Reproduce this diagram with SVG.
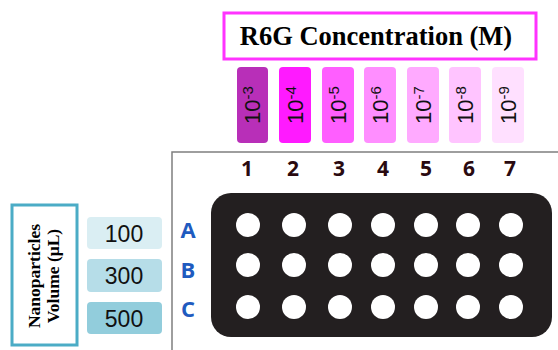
<svg xmlns="http://www.w3.org/2000/svg" width="558" height="350" viewBox="0 0 558 350">
<style>
.conc{font-family:"Liberation Sans",Arial,sans-serif;font-size:22px;fill:#111}
.exp{font-size:15px}
.col{font-family:"Open Sans","Liberation Sans",sans-serif;font-weight:bold;font-size:21px;fill:#2a0a10;text-anchor:middle}
.row{font-family:"Open Sans","Liberation Sans",sans-serif;font-weight:bold;font-size:22px;fill:#1f5bbf;text-anchor:middle}
.vol{font-family:"Liberation Sans",Arial,sans-serif;font-size:23px;fill:#111;text-anchor:middle}
.np{font-family:"Liberation Serif","Times New Roman",serif;font-weight:bold;font-size:17.5px;fill:#000;text-anchor:middle}
.well{fill:#ffffff}
</style>
<rect width="558" height="350" fill="#ffffff"/>
<g id="title">
<rect x="224" y="13" width="312" height="46" fill="#ffffff" stroke="#ff33ff" stroke-width="3"/>
<text x="376" y="45" text-anchor="middle" font-family="'Liberation Serif','Times New Roman',serif" font-weight="bold" font-size="26.5" fill="#000">R6G Concentration (M)</text>
</g>
<g id="concentrations">
<g id="c1"><rect x="237" y="67" width="31" height="76" rx="4" fill="#b82fb8"/><text class="conc" transform="translate(260,105) rotate(-90)" text-anchor="middle">10<tspan class="exp" dy="-7">-3</tspan></text></g>
<g id="c2"><rect x="279" y="67" width="32" height="76" rx="4" fill="#ff1aff"/><text class="conc" transform="translate(303,105) rotate(-90)" text-anchor="middle">10<tspan class="exp" dy="-7">-4</tspan></text></g>
<g id="c3"><rect x="322" y="67" width="32" height="76" rx="4" fill="#ff5eff"/><text class="conc" transform="translate(346,105) rotate(-90)" text-anchor="middle">10<tspan class="exp" dy="-7">-5</tspan></text></g>
<g id="c4"><rect x="364" y="67" width="32" height="76" rx="4" fill="#ff8eff"/><text class="conc" transform="translate(388,105) rotate(-90)" text-anchor="middle">10<tspan class="exp" dy="-7">-6</tspan></text></g>
<g id="c5"><rect x="407" y="67" width="32" height="76" rx="4" fill="#ffaaff"/><text class="conc" transform="translate(431,105) rotate(-90)" text-anchor="middle">10<tspan class="exp" dy="-7">-7</tspan></text></g>
<g id="c6"><rect x="449" y="67" width="32" height="76" rx="4" fill="#ffc4ff"/><text class="conc" transform="translate(473,105) rotate(-90)" text-anchor="middle">10<tspan class="exp" dy="-7">-8</tspan></text></g>
<g id="c7"><rect x="492" y="67" width="32" height="76" rx="4" fill="#ffe0ff"/><text class="conc" transform="translate(516,105) rotate(-90)" text-anchor="middle">10<tspan class="exp" dy="-7">-9</tspan></text></g>
</g>
<g id="frame">
<path d="M172 350 V152 H558" fill="none" stroke="#7f7f7f" stroke-width="1.5"/>
</g>
<g id="columns">
<text class="col" x="247" y="176">1</text>
<text class="col" x="293" y="176">2</text>
<text class="col" x="339" y="176">3</text>
<text class="col" x="383" y="176">4</text>
<text class="col" x="426" y="176">5</text>
<text class="col" x="469" y="176">6</text>
<text class="col" x="510" y="176">7</text>
</g>
<g id="rows">
<text class="row" x="188" y="238">A</text>
<text class="row" x="188" y="278">B</text>
<text class="row" x="188" y="317">C</text>
</g>
<g id="plate">
<rect x="211" y="193" width="341" height="144" rx="20" fill="#231f20"/>
<g class="well">
<circle cx="248" cy="225" r="12"/><circle cx="294" cy="225" r="12"/><circle cx="340" cy="225" r="12"/><circle cx="383" cy="225" r="12"/><circle cx="426" cy="225" r="12"/><circle cx="468" cy="225" r="12"/><circle cx="511" cy="225" r="12"/>
<circle cx="248" cy="265" r="12"/><circle cx="294" cy="265" r="12"/><circle cx="340" cy="265" r="12"/><circle cx="383" cy="265" r="12"/><circle cx="426" cy="265" r="12"/><circle cx="468" cy="265" r="12"/><circle cx="511" cy="265" r="12"/>
<circle cx="248" cy="307" r="12"/><circle cx="294" cy="307" r="12"/><circle cx="340" cy="307" r="12"/><circle cx="383" cy="307" r="12"/><circle cx="426" cy="307" r="12"/><circle cx="468" cy="307" r="12"/><circle cx="511" cy="307" r="12"/>
</g>
</g>
<g id="volumes">
<g id="v100"><rect x="87" y="217" width="75" height="32" rx="4" fill="#daeef3"/><text class="vol" x="124" y="242">100</text></g>
<g id="v300"><rect x="87" y="259" width="75" height="33" rx="4" fill="#b6dde8"/><text class="vol" x="124" y="284">300</text></g>
<g id="v500"><rect x="87" y="302" width="75" height="32" rx="4" fill="#92cddc"/><text class="vol" x="124" y="327">500</text></g>
</g>
<g id="volume-label">
<rect x="12" y="205" width="65" height="140" fill="#ffffff" stroke="#4bacc6" stroke-width="3"/>
<text class="np" transform="translate(40,276) rotate(-90)">Nanoparticles</text>
<text class="np" transform="translate(59,276) rotate(-90)">Volume (μL)</text>
</g>
</svg>
